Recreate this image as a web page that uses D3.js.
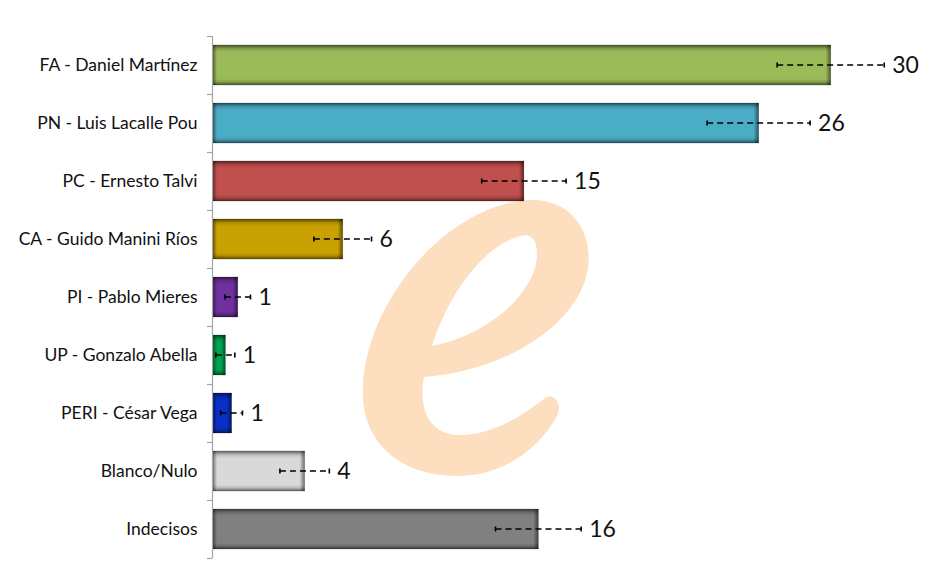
<!DOCTYPE html>
<html>
<head>
<meta charset="utf-8">
<script src="https://d3js.org/d3.v7.min.js"></script>
<style>
  body { margin: 0; background: #fff; }
  text { font-family: Lato, "Open Sans", sans-serif; fill: #111; }
</style>
</head>
<body>
<script>
// categories and series (bar lengths, printed labels as shown)
const candidates = ["FA - Daniel Martínez", "PN - Luis Lacalle Pou", "PC - Ernesto Talvi",
  "CA - Guido Manini Ríos", "PI - Pablo Mieres", "UP - Gonzalo Abella",
  "PERI - César Vega", "Blanco/Nulo", "Indecisos"];
const values = [30, 26.5, 15.1, 6.3, 1.2, 0.6, 0.9, 4.45, 15.8];
const margins = [2.6, 2.5, 2.05, 1.4, 0.62, 0.46, 0.53, 1.2, 2.08];
const shown = ["30", "26", "15", "6", "1", "1", "1", "4", "16"];
const colors = ["#9BBB59", "#4BACC6", "#C0504D", "#C9A100", "#7030A0",
  "#00A24D", "#0A2FC6", "#D9D9D9", "#808080"];

const width = 940, height = 587;
const svg = d3.select("body").append("svg").attr("width", width).attr("height", height);

const x = d3.scaleLinear().domain([0, 30]).range([213, 830.7]);
const y = d3.scaleBand().domain(candidates).range([36, 558]);
const inset = y.step() * 0.155, barH = y.step() * 0.69;

// shading gradients to fake the inner shadow of the bars
const defs = svg.append("defs");
const vg = defs.append("linearGradient").attr("id", "vshade")
  .attr("x1", 0).attr("y1", 0).attr("x2", 0).attr("y2", 1);
[[0, 0.55], [0.1, 0.12], [0.18, 0], [0.85, 0], [0.92, 0.15], [1, 0.55]].forEach(([o, a]) =>
  vg.append("stop").attr("offset", o).attr("stop-color", "#000").attr("stop-opacity", a));
const rg = defs.append("linearGradient").attr("id", "rshade");
[[0, 0], [1, 0.5]].forEach(([o, a]) =>
  rg.append("stop").attr("offset", o).attr("stop-color", "#000").attr("stop-opacity", a));
const lg = defs.append("linearGradient").attr("id", "lshade");
[[0, 0.45], [1, 0]].forEach(([o, a]) =>
  lg.append("stop").attr("offset", o).attr("stop-color", "#000").attr("stop-opacity", a));

// watermark
svg.append("path")
  .attr("fill", "#FDDFC0")
  .attr("fill-rule", "evenodd")
  .attr("d", "M530 200 C570 199 593 230 588 268 C580 322 510 370 424 377 " +
    "C418 410 430 436 462 435 C495 434 525 414 545 398 C554 392 563 404 557 416 " +
    "C540 447 505 476 457 476 C398 476 360 440 363 387 C366 300 448 204 530 200 Z " +
    "M526 235 C540 237 540 262 530 280 C512 314 472 338 432 346 C445 303 482 241 526 235 Z");

// bars
const bars = svg.append("g").selectAll("g").data(candidates).join("g")
  .attr("transform", d => `translate(${x(0)},${y(d) + inset})`);
bars.append("rect")
  .attr("width", (d, i) => x(values[i]) - x(0))
  .attr("height", barH)
  .attr("fill", (d, i) => colors[i])
  .attr("stroke", "rgba(0,0,0,0.2)")
  .attr("stroke-width", 0.8);
bars.append("rect")
  .attr("width", (d, i) => x(values[i]) - x(0))
  .attr("height", barH)
  .attr("fill", "url(#vshade)");
bars.append("rect")
  .attr("x", (d, i) => x(values[i]) - x(0) - Math.min(5, (x(values[i]) - x(0)) / 3))
  .attr("width", (d, i) => Math.min(5, (x(values[i]) - x(0)) / 3))
  .attr("height", barH)
  .attr("fill", "url(#rshade)");
bars.append("rect")
  .attr("width", (d, i) => Math.min(4, (x(values[i]) - x(0)) / 3))
  .attr("height", barH)
  .attr("fill", "url(#lshade)");

// axis
const axis = svg.append("g").attr("transform", "translate(212.5,0)")
  .call(d3.axisLeft(y).tickSize(0).tickPadding(15));
axis.select(".domain").remove();
axis.selectAll("text").style("font-size", "17.5px").attr("fill", "#111");
svg.append("line").attr("x1", 212.5).attr("x2", 212.5).attr("y1", 36).attr("y2", 558)
  .attr("stroke", "#A6A6A6").attr("stroke-width", 1.2);
svg.append("g").selectAll("line").data(d3.range(candidates.length + 1)).join("line")
  .attr("x1", 207).attr("x2", 212.5)
  .attr("y1", i => 36 + i * y.step() + 0.5).attr("y2", i => 36 + i * y.step() + 0.5)
  .attr("stroke", "#A6A6A6").attr("stroke-width", 1.2);

// error bars
const err = svg.append("g").selectAll("g").data(candidates).join("g")
  .attr("transform", d => `translate(0,${y(d) + y.bandwidth() / 2})`);
err.append("line")
  .attr("x1", (d, i) => x(values[i] - margins[i]))
  .attr("x2", (d, i) => x(values[i] + margins[i]))
  .attr("stroke", "#000").attr("stroke-width", 1.6).attr("stroke-dasharray", "6,4");
err.append("line")
  .attr("x1", (d, i) => x(values[i] - margins[i])).attr("x2", (d, i) => x(values[i] - margins[i]))
  .attr("y1", -2.5).attr("y2", 2.5).attr("stroke", "#000").attr("stroke-width", 1.6);
err.append("line")
  .attr("x1", (d, i) => x(values[i] + margins[i])).attr("x2", (d, i) => x(values[i] + margins[i]))
  .attr("y1", -2.5).attr("y2", 2.5).attr("stroke", "#000").attr("stroke-width", 1.6);

// value labels
err.append("text")
  .attr("x", (d, i) => x(values[i] + margins[i]) + 8)
  .attr("dy", "0.36em")
  .style("font-size", "23px")
  .text((d, i) => shown[i]);
</script>
</body>
</html>
